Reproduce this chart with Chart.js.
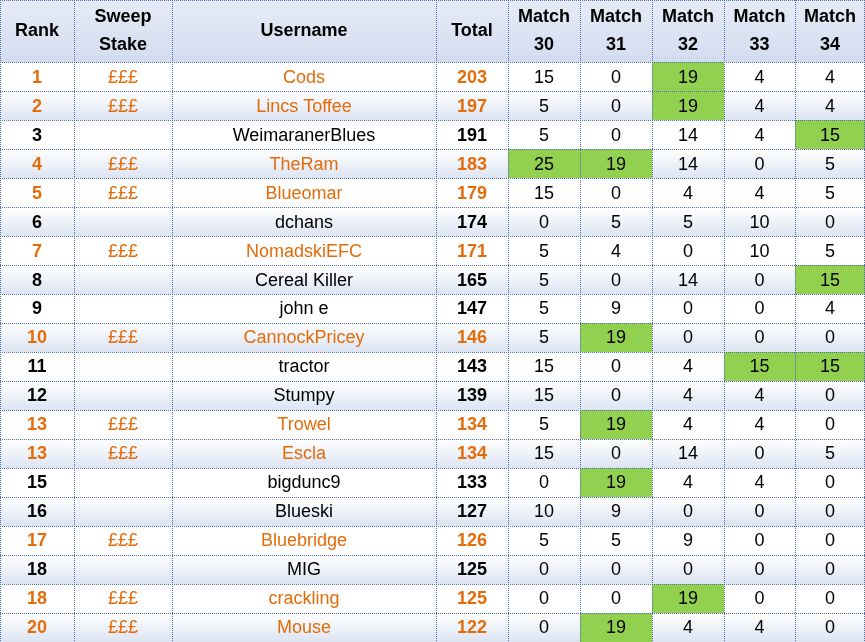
<!DOCTYPE html>
<html>
<head>
<meta charset="utf-8">
<script src="https://cdn.jsdelivr.net/npm/chart.js@4.4.0/dist/chart.umd.min.js"></script>
<style>
  html, body { margin: 0; padding: 0; background: #fff; }
  #wrap { width: 865px; height: 642px; }
</style>
</head>
<body>
<div id="wrap"><canvas id="tableChart"></canvas></div>
<script>
// League table data
var ranks = [1, 2, 3, 4, 5, 6, 7, 8, 9, 10, 11, 12, 13, 13, 15, 16, 17, 18, 18, 20];
var sweep = [true, true, false, true, true, false, true, false, false, true, false, false, true, true, false, false, true, false, true, true];
var usernames = ['Cods', 'Lincs Toffee', 'WeimaranerBlues', 'TheRam', 'Blueomar', 'dchans', 'NomadskiEFC',
    'Cereal Killer', 'john e', 'CannockPricey', 'tractor', 'Stumpy', 'Trowel', 'Escla', 'bigdunc9',
    'Blueski', 'Bluebridge', 'MIG', 'crackling', 'Mouse'];
var totals = [203, 197, 191, 183, 179, 174, 171, 165, 147, 146, 143, 139, 134, 134, 133, 127, 126, 125, 125, 122];
var match30 = [15, 5, 5, 25, 15, 0, 5, 5, 5, 5, 15, 15, 5, 15, 0, 10, 5, 0, 0, 0];
var match31 = [0, 0, 0, 19, 0, 5, 4, 0, 9, 19, 0, 0, 19, 0, 19, 9, 5, 0, 0, 19];
var match32 = [19, 19, 14, 14, 4, 5, 0, 14, 0, 0, 4, 4, 4, 14, 4, 0, 9, 0, 19, 4];
var match33 = [4, 4, 4, 0, 4, 10, 10, 0, 0, 0, 15, 4, 4, 0, 4, 0, 0, 0, 0, 4];
var match34 = [4, 4, 15, 5, 5, 0, 5, 15, 4, 0, 15, 0, 0, 5, 0, 0, 0, 0, 0, 0];
var headers = [['Rank'], ['Sweep', 'Stake'], ['Username'], ['Total'],
    ['Match', '30'], ['Match', '31'], ['Match', '32'], ['Match', '33'], ['Match', '34']];

// Layout (column widths and header height in scale units)
var colWidths = [74, 98, 264, 72, 72, 72, 72, 71, 70];
var headerUnits = 2.14;

var colEdges = [0];
colWidths.forEach(function (w) { colEdges.push(colEdges[colEdges.length - 1] + w); });
var matches = [match30, match31, match32, match33, match34];
var maxes = matches.map(function (m) { return Math.max.apply(null, m); });
var ORANGE = '#e46c0a';

function cellText(r, c) {
    if (c === 0) return String(ranks[r]);
    if (c === 1) return sweep[r] ? '£££' : '';
    if (c === 2) return usernames[r];
    if (c === 3) return String(totals[r]);
    return String(matches[c - 4][r]);
}

var tablePlugin = {
    id: 'tablePlugin',
    afterDatasetsDraw: function (chart) {
        var ctx = chart.ctx;
        var xs = chart.scales.x, ys = chart.scales.y;
        var X = function (v) { return xs.getPixelForValue(v); };
        var Y = function (v) { return ys.getPixelForValue(v); };
        var left = X(0), right = X(colEdges[colEdges.length - 1]);
        ctx.save();

        // header background
        var hg = ctx.createLinearGradient(0, Y(0), 0, Y(headerUnits));
        hg.addColorStop(0, '#e6ebf6');
        hg.addColorStop(1, '#d3dcef');
        ctx.fillStyle = hg;
        ctx.fillRect(left, Y(0), right - left, Y(headerUnits) - Y(0));

        // row backgrounds
        for (var r = 0; r < ranks.length; r++) {
            var y0 = Y(headerUnits + r), y1 = Y(headerUnits + r + 1);
            if (r % 2 === 1) {
                var g = ctx.createLinearGradient(0, y0, 0, y1);
                g.addColorStop(0, '#ffffff');
                g.addColorStop(1, '#dce4f2');
                ctx.fillStyle = g;
                ctx.fillRect(left, y0, right - left, y1 - y0);
            }
            for (var m = 0; m < matches.length; m++) {
                if (matches[m][r] === maxes[m]) {
                    ctx.fillStyle = '#92d050';
                    ctx.fillRect(X(colEdges[m + 4]), y0, X(colEdges[m + 5]) - X(colEdges[m + 4]), y1 - y0);
                }
            }
        }

        // grid lines
        ctx.strokeStyle = '#4f6fb0';
        ctx.lineWidth = 1;
        ctx.setLineDash([1, 1]);
        for (var i = 0; i <= ranks.length; i++) {
            var yy = Math.round(Y(headerUnits + i)) + 0.5;
            ctx.beginPath(); ctx.moveTo(left, yy); ctx.lineTo(right, yy); ctx.stroke();
        }
        ctx.beginPath(); ctx.moveTo(left, 0.5); ctx.lineTo(right, 0.5); ctx.stroke();
        colEdges.forEach(function (e) {
            var xx = Math.min(Math.round(X(e)) + 0.5, right - 0.5);
            ctx.beginPath(); ctx.moveTo(xx, Y(0)); ctx.lineTo(xx, Y(headerUnits + ranks.length)); ctx.stroke();
        });
        ctx.setLineDash([]);

        // header text
        ctx.textAlign = 'center';
        ctx.textBaseline = 'middle';
        ctx.fillStyle = '#000';
        ctx.font = 'bold 18px "Liberation Sans", Arial, sans-serif';
        headers.forEach(function (h, c) {
            var cx = (X(colEdges[c]) + X(colEdges[c + 1])) / 2;
            var cy = (Y(0) + Y(headerUnits)) / 2;
            if (h.length === 1) ctx.fillText(h[0], cx, cy);
            else { ctx.fillText(h[0], cx, cy - 14); ctx.fillText(h[1], cx, cy + 14); }
        });

        // body text
        for (var r2 = 0; r2 < ranks.length; r2++) {
            var cy2 = (Y(headerUnits + r2) + Y(headerUnits + r2 + 1)) / 2 + 1;
            for (var c = 0; c < colWidths.length; c++) {
                var bold = (c === 0 || c === 3);
                var orange = sweep[r2] && c < 4;
                ctx.font = (bold ? 'bold ' : '') + '18px "Liberation Sans", Arial, sans-serif';
                ctx.fillStyle = orange ? ORANGE : '#000';
                var cx2 = (X(colEdges[c]) + X(colEdges[c + 1])) / 2;
                ctx.fillText(cellText(r2, c), cx2, cy2);
            }
        }
        ctx.restore();
    }
};

var ctx = document.getElementById('tableChart').getContext('2d');
var tableChart = new Chart(ctx, {
    type: 'scatter',
    data: { datasets: [{ data: [], pointRadius: 0 }] },
    options: {
        responsive: true,
        maintainAspectRatio: false,
        animation: false,
        layout: { padding: 0 },
        plugins: { legend: { display: false }, tooltip: { enabled: false } },
        scales: {
            x: { type: 'linear', min: 0, max: colEdges[colEdges.length - 1], display: false },
            y: { type: 'linear', min: 0, max: headerUnits + ranks.length, reverse: true, display: false }
        }
    },
    plugins: [tablePlugin]
});
</script>
</body>
</html>
